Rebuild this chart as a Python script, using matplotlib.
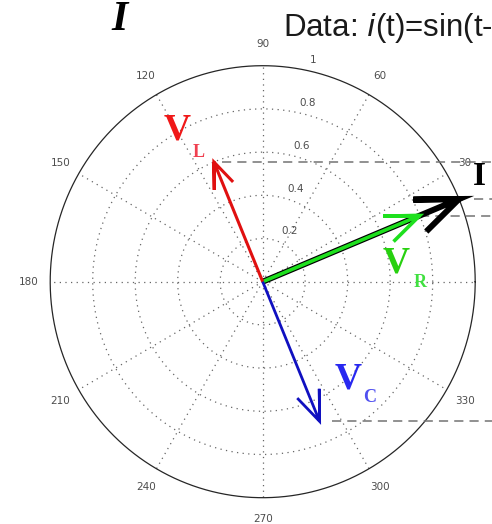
import matplotlib
matplotlib.use("Agg")
import matplotlib.pyplot as plt
import numpy as np

# phasors: name, magnitude, angle (deg), colour
names = ["I", "V_R", "V_L", "V_C"]
mags = [1.0, 0.8, 0.6, 0.7]
angles = [22.5, 22.5, 112.5, -67.5]
colors = ["black", "#1ee01e", "#e01010", "#1010c0"]
widths = [4.3, 2.6, 2.2, 2.0]

ring_values = [0.2, 0.4, 0.6, 0.8, 1.0]
ring_labels = ["0.2", "0.4", "0.6", "0.8", "1"]
spoke_angles = [30, 60, 90, 120, 150, 180, 210, 240, 270, 300, 330]


def compass_arrow(ax, r, deg, color, lw, z):
    # matlab compass style: shaft plus two open barbs
    a = np.array([0, 1, 0.8, 1, 0.8])
    b = np.array([0, 0, 0.08, 0, -0.08])
    th = np.deg2rad(deg)
    x = r * (a * np.cos(th) - b * np.sin(th))
    y = r * (a * np.sin(th) + b * np.cos(th))
    ax.plot(x, y, color=color, lw=lw, zorder=z, solid_capstyle="butt",
            solid_joinstyle="miter")


fig = plt.figure(figsize=(4.92, 5.24), dpi=100)
ax = fig.add_axes([0, 0, 1, 1])
ax.set_xlim(-262.7 / 212.5, (492 - 262.7) / 212.5)
ax.set_ylim(-(524 - 281.7) / 216, 281.7 / 216)
ax.axis("off")

t = np.linspace(0, 2 * np.pi, 400)
grid_kw = dict(color="0.4", lw=0.9, ls=(0, (1, 3.5)), zorder=1)
for r in ring_values[:-1]:
    ax.plot(r * np.cos(t), r * np.sin(t), **grid_kw)
ax.plot(np.cos(t), np.sin(t), color="0.15", lw=0.9, zorder=2)
for d in spoke_angles + [0]:
    th = np.deg2rad(d)
    ax.plot([0, np.cos(th)], [0, np.sin(th)], **grid_kw)

# angle labels
for d in spoke_angles:
    th = np.deg2rad(d)
    ax.text(1.1 * np.cos(th), 1.1 * np.sin(th), str(d), ha="center",
            va="center", fontsize=7.5, color="0.3")

# radius labels
c82 = np.deg2rad(82)
for r, lab in zip(ring_values, ring_labels):
    ax.text(0.1 + r * np.cos(c82), r * np.sin(c82) + 0.035, lab,
            ha="center", va="center", fontsize=7.5, color="0.3")

# dashed projections toward the right
for r, d, gap in [(0.6, 112.5, 0.04), (1.0, 22.5, 0.07), (0.8, 22.5, 0.0),
                  (0.7, -67.5, 0.06)]:
    th = np.deg2rad(d)
    ax.plot([r * np.cos(th) + gap, 1.2], [r * np.sin(th)] * 2,
            color="0.45", lw=1.1, ls=(0, (6, 4)), zorder=3)

for i, (r, d, c, w) in enumerate(zip(mags, angles, colors, widths)):
    compass_arrow(ax, r, d, c, w, 4 + i)

# labels
serif = "Liberation Serif"
ax.text(-0.403, 0.702, "V", color="#f01818", fontsize=27, family=serif,
        weight="bold", ha="center", va="center")
ax.text(-0.300, 0.600, "L", color="#f04050", fontsize=13, family=serif,
        weight="bold", ha="center", va="center")
ax.text(0.627, 0.087, "V", color="#28d010", fontsize=27, family=serif,
        weight="bold", ha="center", va="center")
ax.text(0.740, -0.006, "R", color="#40e040", fontsize=13, family=serif,
        weight="bold", ha="center", va="center")
ax.text(0.401, -0.450, "V", color="#2828f0", fontsize=27, family=serif,
        weight="bold", ha="center", va="center")
ax.text(0.505, -0.538, "C", color="#5050f0", fontsize=13, family=serif,
        weight="bold", ha="center", va="center")
ax.text(1.018, 0.485, "I", color="black", fontsize=24, family=serif,
        weight="bold", ha="center", va="center")

ax.text(-0.672, 1.21, "I", color="black", fontsize=30, family=serif,
        weight="bold", style="italic", ha="center", va="center")
ax.text(0.096, 1.175, "Data: $i$(t)=sin(t-", color="0.1", fontsize=22.5,
        family="Liberation Sans", ha="left", va="center")

fig.savefig("out.png", dpi=100)
